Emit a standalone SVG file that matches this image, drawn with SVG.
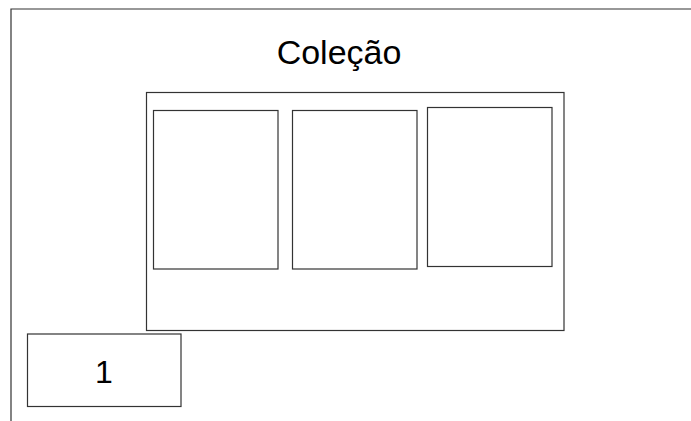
<svg xmlns="http://www.w3.org/2000/svg" width="691" height="421" viewBox="0 0 691 421">
  <style>
    .box { fill: #ffffff; stroke: #333333; stroke-width: 1.2; }
    .frame { fill: none; stroke: #333333; stroke-width: 1.2; }
    .label { font-family: "Liberation Sans", Arial, sans-serif; fill: #000000; text-anchor: middle; }
  </style>
  <rect width="691" height="421" fill="#ffffff"/>
  <!-- page frame: top and left edges -->
  <g id="frame">
    <path class="frame" d="M11,421 V9 H691"/>
  </g>
  <g id="title">
    <text class="label" x="339" y="64" font-size="34">Coleção</text>
  </g>
  <g id="collection">
    <rect class="box" x="146.5" y="92.5" width="417.5" height="238"/>
  </g>
  <g id="item-1">
    <rect class="box" x="153.5" y="110.5" width="124.5" height="158.5"/>
  </g>
  <g id="item-2">
    <rect class="box" x="292.5" y="110.5" width="124.5" height="158.5"/>
  </g>
  <g id="item-3">
    <rect class="box" x="427.5" y="107.5" width="124.5" height="159"/>
  </g>
  <g id="page-number">
    <rect class="box" x="27.5" y="334" width="153.5" height="72.5"/>
    <text class="label" x="104" y="383" font-size="32">1</text>
  </g>
  <g id="connectors"/>
</svg>
